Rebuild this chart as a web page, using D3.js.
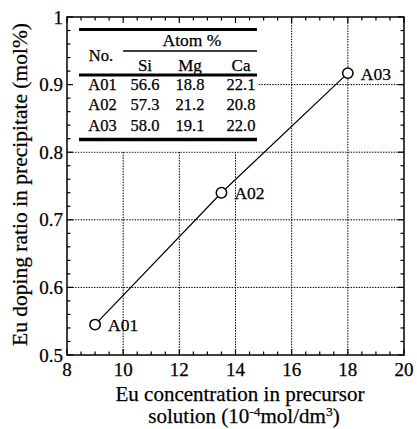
<!DOCTYPE html>
<html>
<head>
<meta charset="utf-8">
<script src="https://cdn.jsdelivr.net/npm/d3@7"></script>
<style>
  html, body { margin: 0; padding: 0; background: #fff; }
  svg { display: block; font-family: "Liberation Serif", "Times New Roman", serif; }
  svg text { stroke: #000; stroke-width: 0.25px; }
</style>
</head>
<body>
<svg id="chart" width="417" height="429"></svg>
<script>
// ---- data ----
const sampleNames = ["A01", "A02", "A03"];
const euConcentration = [9.0, 13.5, 18.0];
const euDopingRatio = [0.545, 0.740, 0.917];
const xTicks = [8, 10, 12, 14, 16, 18, 20];
const yTicks = [0.5, 0.6, 0.7, 0.8, 0.9, 1];
const yTickLabels = ["0.5", "0.6", "0.7", "0.8", "0.9", "1"];
const tableElements = ["Si", "Mg", "Ca"];
const tableSi = [56.6, 57.3, 58.0];
const tableMg = [18.8, 21.2, 19.1];
const tableCa = [22.1, 20.8, 22.0];

// ---- layout ----
const svg = d3.select("#chart");
const L = 67, R = 404, T = 17, B = 355;
const x = d3.scaleLinear().domain([8, 20]).range([L, R]);
const y = d3.scaleLinear().domain([0.5, 1]).range([B, T]);

// grid
const g = svg.append("g");
const gridX = xTicks.filter(d => d > 8 && d < 20);
const gridY = yTicks.filter(d => d > 0.5 && d < 1);
g.selectAll(".gx").data(gridX).enter().append("line")
  .attr("x1", d => x(d)).attr("x2", d => x(d)).attr("y1", T).attr("y2", B)
  .attr("stroke", "#000").attr("stroke-width", 1).attr("stroke-dasharray", "1.5,1.2");
g.selectAll(".gy").data(gridY).enter().append("line")
  .attr("y1", d => y(d)).attr("y2", d => y(d)).attr("x1", L).attr("x2", R)
  .attr("stroke", "#000").attr("stroke-width", 1).attr("stroke-dasharray", "1.5,1.2");

// table background
g.append("rect").attr("x", L + 0.5).attr("y", T + 0.5).attr("width", 190).attr("height", 134)
  .attr("fill", "#fff");

// table
const tf = 16.5;
const tbl = svg.append("g").attr("font-size", tf).attr("fill", "#000");
const tl = 79, tr = 257;
tbl.append("line").attr("x1", tl).attr("x2", tr).attr("y1", 29.5).attr("y2", 29.5).attr("stroke", "#000").attr("stroke-width", 3);
tbl.append("line").attr("x1", 123).attr("x2", tr).attr("y1", 51).attr("y2", 51).attr("stroke", "#000").attr("stroke-width", 1.5);
tbl.append("line").attr("x1", tl).attr("x2", tr).attr("y1", 75).attr("y2", 75).attr("stroke", "#000").attr("stroke-width", 3);
tbl.append("line").attr("x1", tl).attr("x2", tr).attr("y1", 139.5).attr("y2", 139.5).attr("stroke", "#000").attr("stroke-width", 3.5);
tbl.append("text").attr("x", 101).attr("y", 60.5).attr("text-anchor", "middle").text("No.");
tbl.append("text").attr("x", 192).attr("y", 46).attr("text-anchor", "middle").attr("font-size", 17.5).text("Atom %");
const colX = [145, 190, 241];
tbl.selectAll(".hdr").data(tableElements).enter().append("text")
  .attr("x", (d, i) => colX[i]).attr("y", 70.5).attr("text-anchor", "middle").attr("font-size", 17).text(d => d);
const rowY = [90, 110.3, 130.6];
sampleNames.forEach((name, i) => {
  const vals = [name, tableSi[i].toFixed(1), tableMg[i].toFixed(1), tableCa[i].toFixed(1)];
  const xs = [102.5, colX[0], colX[1], colX[2]];
  vals.forEach((v, j) => {
    tbl.append("text").attr("x", xs[j]).attr("y", rowY[i]).attr("text-anchor", "middle").text(v);
  });
});

// line + markers
const pts = euConcentration.map((c, i) => ({ c, r: euDopingRatio[i], n: sampleNames[i] }));
svg.append("path").datum(pts)
  .attr("d", d3.line().x(d => x(d.c)).y(d => y(d.r)))
  .attr("fill", "none").attr("stroke", "#000").attr("stroke-width", 1.2);
svg.selectAll(".pt").data(pts).enter().append("circle")
  .attr("cx", d => x(d.c)).attr("cy", d => y(d.r)).attr("r", 5.2)
  .attr("fill", "#fff").attr("stroke", "#000").attr("stroke-width", 1.5);
svg.selectAll(".lbl").data(pts).enter().append("text")
  .attr("x", d => x(d.c) + 13).attr("y", d => y(d.r) + 6.5)
  .attr("font-size", 17.5).text(d => d.n);

// frame
svg.append("rect").attr("x", L).attr("y", T).attr("width", R - L).attr("height", B - T)
  .attr("fill", "none").attr("stroke", "#000").attr("stroke-width", 1.5);

// ticks (inward, mirrored)
const xMinor = d3.range(8, 20.001, 0.5);
const yMinor = d3.range(0.5, 1.0001, 0.02);
const isMajorX = v => Math.abs(v - Math.round(v / 2) * 2) < 1e-6;
const isMajorY = v => Math.abs(v * 10 - Math.round(v * 10)) < 1e-6;
const tk = svg.append("g").attr("stroke", "#000").attr("stroke-width", 1.2);
xMinor.forEach(v => {
  const len = isMajorX(v) ? 6 : 3.5;
  tk.append("line").attr("x1", x(v)).attr("x2", x(v)).attr("y1", B).attr("y2", B - len);
  tk.append("line").attr("x1", x(v)).attr("x2", x(v)).attr("y1", T).attr("y2", T + len);
});
yMinor.forEach(v => {
  const len = isMajorY(v) ? 6 : 3.5;
  tk.append("line").attr("y1", y(v)).attr("y2", y(v)).attr("x1", L).attr("x2", L + len);
  tk.append("line").attr("y1", y(v)).attr("y2", y(v)).attr("x1", R).attr("x2", R - len);
});

// tick labels
const tfs = 19;
svg.selectAll(".xt").data(xTicks).enter().append("text")
  .attr("x", d => x(d)).attr("y", 376).attr("text-anchor", "middle")
  .attr("font-size", tfs).text(d => d);
svg.selectAll(".yt").data(yTicks).enter().append("text")
  .attr("x", 63).attr("y", d => y(d) + 6.5).attr("text-anchor", "end")
  .attr("font-size", tfs).text((d, i) => yTickLabels[i]);

// axis titles
svg.append("text").attr("x", 240).attr("y", 400.5).attr("text-anchor", "middle")
  .attr("font-size", 21).text("Eu concentration in precursor");
const t2 = svg.append("text").attr("x", 244).attr("y", 423).attr("text-anchor", "middle").attr("font-size", 21);
t2.append("tspan").text("solution (10");
t2.append("tspan").attr("font-size", 13.5).attr("dy", -7).text("-4");
t2.append("tspan").attr("dy", 7).text("mol/dm");
t2.append("tspan").attr("font-size", 13.5).attr("dy", -7).text("3");
t2.append("tspan").attr("dy", 7).text(")");

svg.append("text").attr("transform", "translate(27,184.5) rotate(-90)")
  .attr("text-anchor", "middle").attr("font-size", 21.5)
  .text("Eu doping ratio in precipitate (mol%)");
</script>
</body>
</html>
